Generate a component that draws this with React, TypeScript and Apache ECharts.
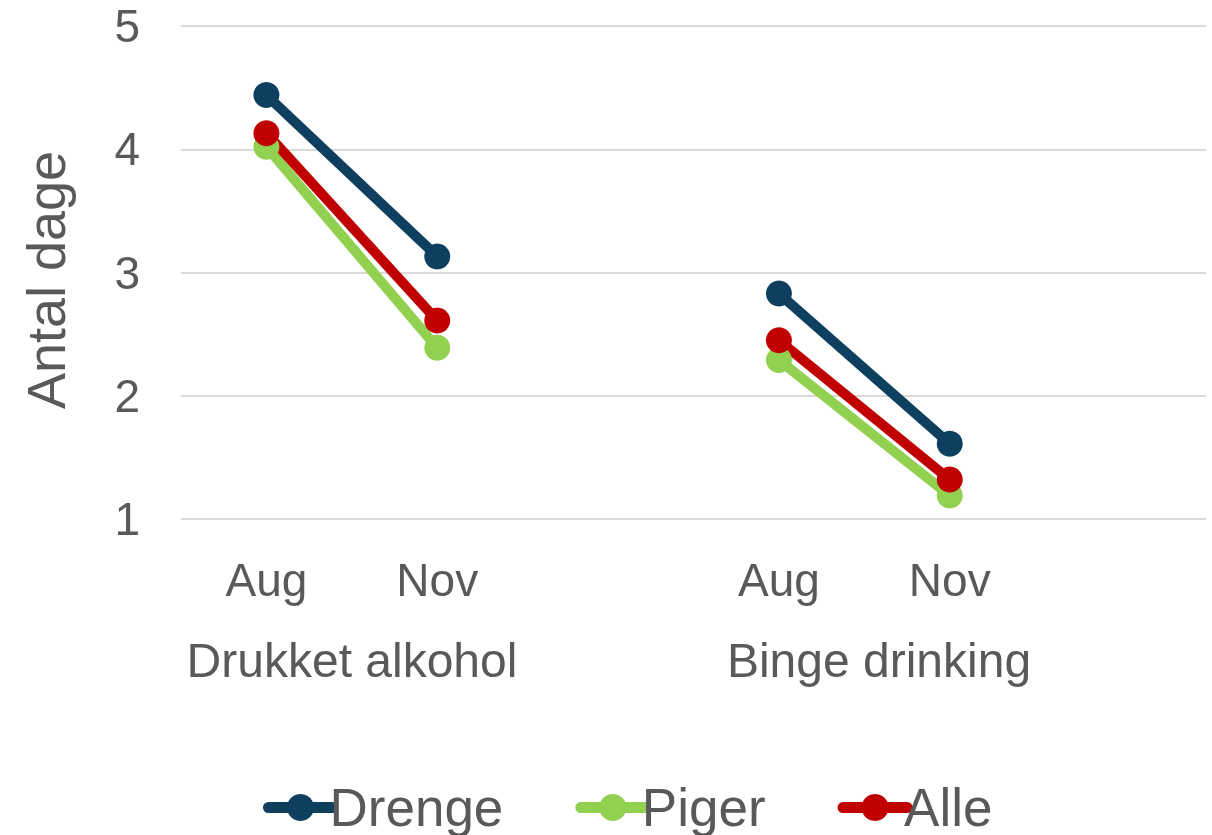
import React, { useEffect, useRef } from "react";
import * as echarts from "echarts";

const categories = ["Aug", "Nov", "", "Aug", "Nov", ""];
const groupLabels = ["Drukket alkohol", "Binge drinking"];
const yTitle = "Antal dage";
const seriesNames = ["Drenge", "Piger", "Alle"];
const drenge = [4.44, 3.13, null, 2.83, 1.61, null];
const piger = [4.02, 2.39, null, 2.29, 1.19, null];
const alle = [4.13, 2.61, null, 2.45, 1.32, null];
const colors = ["#0e3f5e", "#92d050", "#c00000"];

const FONT = "'Liberation Sans', Arial, sans-serif";
const TEXT = "#595959";

export default function App() {
  const ref = useRef<HTMLDivElement>(null);
  useEffect(() => {
    if (!ref.current) return;
    const chart = echarts.init(ref.current, null, { renderer: "svg" });
    const values = [drenge, piger, alle];
    chart.setOption({
      animation: false,
      textStyle: { fontFamily: FONT, color: TEXT },
      grid: { left: 181, right: 6, top: 26, bottom: 316, containLabel: false },
      xAxis: {
        type: "category",
        data: categories,
        boundaryGap: true,
        axisLine: { show: false },
        axisTick: { show: false },
        axisLabel: { color: TEXT, fontSize: 46, fontFamily: FONT, margin: 38 },
      },
      yAxis: {
        type: "value",
        min: 1,
        max: 5,
        interval: 1,
        axisLine: { show: false },
        axisTick: { show: false },
        axisLabel: { color: TEXT, fontSize: 46, fontFamily: FONT, margin: 41 },
        splitLine: { lineStyle: { color: "#d9d9d9", width: 2 } },
      },
      legend: {
        top: 776,
        left: 258,
        itemWidth: 64,
        itemHeight: 34,
        itemGap: 72,
        lineStyle: { width: 11, cap: "round" },
        textStyle: { color: TEXT, fontSize: 53, fontFamily: FONT, lineHeight: 34, padding: [0, 0, 0, -8] },
        data: seriesNames,
      },
      graphic: [
        {
          type: "text",
          x: 46,
          y: 280,
          rotation: Math.PI / 2,
          style: { text: yTitle, fill: TEXT, fontSize: 54, fontFamily: FONT, align: "center", verticalAlign: "middle" },
        },
        {
          type: "text",
          x: 352,
          y: 660,
          style: { text: groupLabels[0], fill: TEXT, fontSize: 48, fontFamily: FONT, align: "center", verticalAlign: "middle" },
        },
        {
          type: "text",
          x: 879,
          y: 660,
          style: { text: groupLabels[1], fill: TEXT, fontSize: 48, fontFamily: FONT, align: "center", verticalAlign: "middle" },
        },
      ],
      series: seriesNames.map((name, i) => ({
        name,
        type: "line",
        data: values[i],
        connectNulls: false,
        symbol: "circle",
        symbolSize: 26,
        color: colors[i],
        lineStyle: { color: colors[i], width: 10 },
        itemStyle: { color: colors[i] },
      })),
    });
    return () => chart.dispose();
  }, []);
  return <div ref={ref} style={{ position: "fixed", left: 0, top: 0, width: 1212, height: 835 }} />;
}
